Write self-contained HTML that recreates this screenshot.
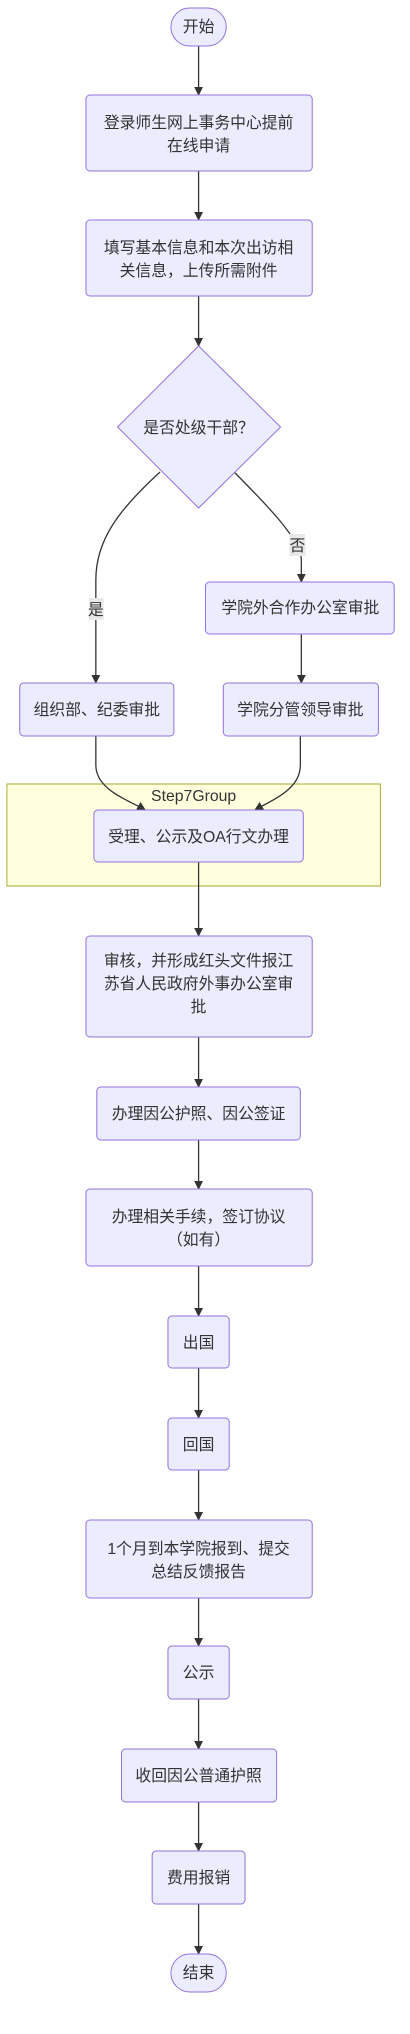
<!DOCTYPE html>
<html><head><meta charset="utf-8"><style>
html,body{margin:0;padding:0;background:#fff;}
svg{display:block;}
text{font-family:"Liberation Sans","Noto Sans CJK SC",sans-serif;font-size:16px;fill:#333;text-anchor:middle;}
.n{fill:#ECECFF;stroke:#9370DB;stroke-width:1;}
.e{fill:none;stroke:#333;stroke-width:1.3;}
</style></head><body>
<svg width="410" height="2034" viewBox="0 0 410 2034" xmlns="http://www.w3.org/2000/svg">
<defs><marker id="a" viewBox="0 0 10 10" refX="9" refY="5" markerWidth="7" markerHeight="7" orient="auto"><path d="M0,0L10,5L0,10z" fill="#333"/></marker></defs>
<g transform="scale(0.988,1)">
<rect x="7" y="784" width="378" height="102" fill="#ffffde" stroke="#aaaa33"/>
<text x="196" y="801">Step7Group</text>
<g class="e">
<path d="M201,46V95" marker-end="url(#a)"/>
<path d="M201,171V220" marker-end="url(#a)"/>
<path d="M201,296V346" marker-end="url(#a)"/>
<path d="M162,472C120,510 97,540 97,580V683" marker-end="url(#a)"/>
<path d="M237,472C270,505 305,540 305,560V582" marker-end="url(#a)"/>
<path d="M305,634V683" marker-end="url(#a)"/>
<path d="M97,736V765C97,790 130,800 147,810" marker-end="url(#a)"/>
<path d="M304,736V765C304,790 275,800 258,810" marker-end="url(#a)"/>
<path d="M201,862V936" marker-end="url(#a)"/>
<path d="M201,1037V1087" marker-end="url(#a)"/>
<path d="M201,1140V1189" marker-end="url(#a)"/>
<path d="M201,1266V1316" marker-end="url(#a)"/>
<path d="M201,1368V1418" marker-end="url(#a)"/>
<path d="M201,1470V1520" marker-end="url(#a)"/>
<path d="M201,1598V1646" marker-end="url(#a)"/>
<path d="M201,1699V1749" marker-end="url(#a)"/>
<path d="M201,1802V1851" marker-end="url(#a)"/>
<path d="M201,1904V1954" marker-end="url(#a)"/>
</g>
<rect x="293" y="534" width="16" height="22" fill="#e8e8e8"/><text x="301" y="551">否</text>
<rect x="90" y="598" width="15" height="22" fill="#e8e8e8"/><text x="97" y="615">是</text>
<rect class="n" x="173" y="8" width="56" height="38" rx="19"/><text x="201" y="32">开始</text>
<rect class="n" x="87" y="95" width="229" height="76" rx="4"/><text x="201" y="128">登录师生网上事务中心提前</text><text x="201" y="151">在线申请</text>
<rect class="n" x="87" y="220" width="229" height="76" rx="4"/><text x="201" y="253">填写基本信息和本次出访相</text><text x="201" y="276">关信息，上传所需附件</text>
<polygon class="n" points="201,346 284,427 201,508 119,427"/><text x="201" y="433">是否处级干部？</text>
<rect class="n" x="208" y="582" width="191" height="52" rx="4"/><text x="304" y="613">学院外合作办公室审批</text>
<rect class="n" x="20" y="683" width="156" height="53" rx="4"/><text x="98" y="715">组织部、纪委审批</text>
<rect class="n" x="226" y="683" width="157" height="53" rx="4"/><text x="304" y="715">学院分管领导审批</text>
<rect class="n" x="95" y="810" width="212" height="52" rx="4"/><text x="201" y="842">受理、公示及OA行文办理</text>
<rect class="n" x="87" y="936" width="229" height="101" rx="4"/><text x="201" y="966">审核，并形成红头文件报江</text><text x="201" y="989">苏省人民政府外事办公室审</text><text x="201" y="1012">批</text>
<rect class="n" x="98" y="1087" width="206" height="53" rx="4"/><text x="201" y="1119">办理因公护照、因公签证</text>
<rect class="n" x="87" y="1189" width="229" height="77" rx="4"/><text x="201" y="1222">办理相关手续，签订协议</text><text x="201" y="1245">（如有）</text>
<rect class="n" x="170" y="1316" width="62" height="52" rx="4"/><text x="201" y="1348">出国</text>
<rect class="n" x="170" y="1418" width="62" height="52" rx="4"/><text x="201" y="1450">回国</text>
<rect class="n" x="87" y="1520" width="229" height="78" rx="4"/><text x="201" y="1554">1个月到本学院报到、提交</text><text x="201" y="1577">总结反馈报告</text>
<rect class="n" x="170" y="1646" width="62" height="53" rx="4"/><text x="201" y="1678">公示</text>
<rect class="n" x="123" y="1749" width="157" height="53" rx="4"/><text x="201" y="1781">收回因公普通护照</text>
<rect class="n" x="154" y="1851" width="94" height="53" rx="4"/><text x="201" y="1883">费用报销</text>
<rect class="n" x="173" y="1954" width="56" height="38" rx="19"/><text x="201" y="1978">结束</text>
</g>
</svg>
</body></html>
